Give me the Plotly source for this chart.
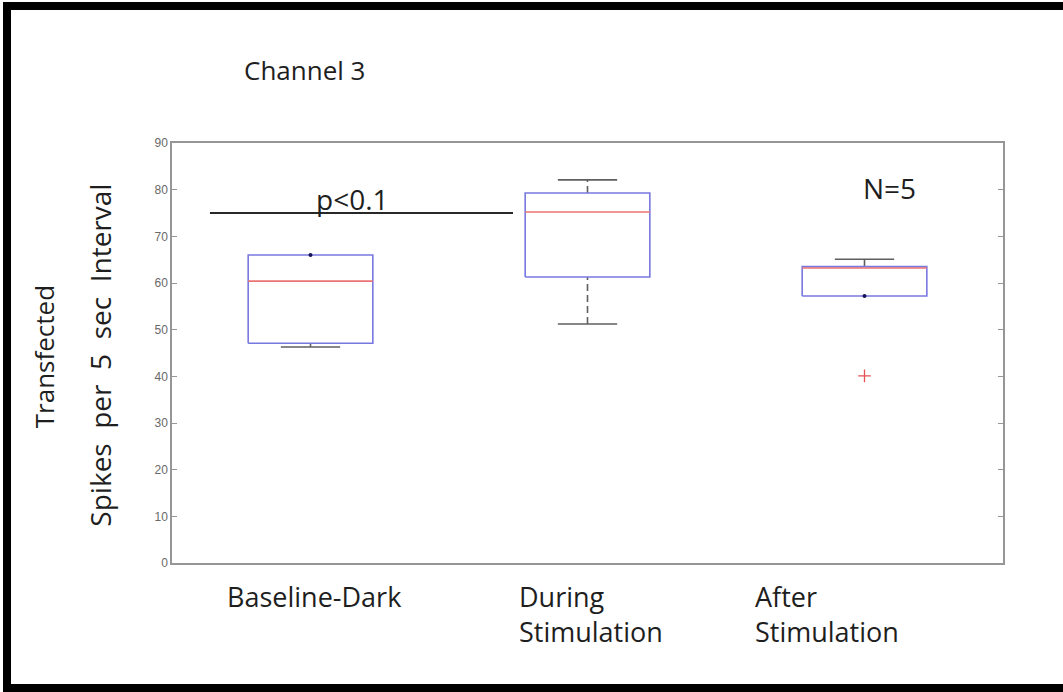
import plotly.graph_objects as go

# Box-plot summary for spikes per 5 s interval, channel 3 (N=5 per condition)
categories = ["Baseline-Dark", "During<br>Stimulation", "After<br>Stimulation"]
positions = [1, 2, 3]
q1 = [47.1, 61.3, 57.2]
median = [60.4, 75.2, 63.2]
q3 = [66.0, 79.3, 63.5]
lower_whisker = [46.3, 51.2, 57.2]
upper_whisker = [66.0, 82.1, 65.1]
outlier_pos = [3]
outlier_val = [40.1]
edge_dot_pos = [1, 3]
edge_dot_val = [66.0, 57.2]

y_ticks = [0, 10, 20, 30, 40, 50, 60, 70, 80, 90]

sig_x = [0.637, 1.731]
sig_y = 75

BOX_HALF = 0.225
CAP_HALF = 0.107
BOX_COLOR = "rgb(120,120,225)"
MED_COLOR = "rgb(235,115,115)"
WHISK_COLOR = "rgb(95,95,95)"
FONT = "Open Sans"
TXT = "rgb(30,30,30)"

fig = go.Figure()

for p, a, m, b, lo, hi in zip(positions, q1, median, q3, lower_whisker, upper_whisker):
    # whiskers (dashed) and caps
    fig.add_trace(go.Scatter(x=[p, p], y=[lo, a], mode="lines",
                             line=dict(color=WHISK_COLOR, width=1.6, dash="7px,4px"),
                             hoverinfo="skip", showlegend=False))
    fig.add_trace(go.Scatter(x=[p, p], y=[b, hi], mode="lines",
                             line=dict(color=WHISK_COLOR, width=1.6, dash="7px,4px"),
                             hoverinfo="skip", showlegend=False))
    for v in (lo, hi):
        if v not in (a, b):
            fig.add_trace(go.Scatter(x=[p - CAP_HALF, p + CAP_HALF], y=[v, v], mode="lines",
                                     line=dict(color=WHISK_COLOR, width=1.6),
                                     hoverinfo="skip", showlegend=False))
    # box
    fig.add_trace(go.Scatter(x=[p - BOX_HALF, p + BOX_HALF, p + BOX_HALF, p - BOX_HALF, p - BOX_HALF],
                             y=[a, a, b, b, a], mode="lines",
                             line=dict(color=BOX_COLOR, width=1.6),
                             hoverinfo="skip", showlegend=False))
    # median
    fig.add_trace(go.Scatter(x=[p - BOX_HALF, p + BOX_HALF], y=[m, m], mode="lines",
                             line=dict(color=MED_COLOR, width=1.6),
                             hoverinfo="skip", showlegend=False))

fig.add_trace(go.Scatter(x=edge_dot_pos, y=edge_dot_val, mode="markers",
                         marker=dict(color="rgb(20,20,90)", size=4),
                         hoverinfo="skip", showlegend=False))
fig.add_trace(go.Scatter(x=outlier_pos, y=outlier_val, mode="markers",
                         marker=dict(symbol="cross-thin", size=9,
                                     line=dict(color="rgb(230,80,80)", width=1.3)),
                         hoverinfo="skip", showlegend=False))

# significance bar
fig.add_trace(go.Scatter(x=sig_x, y=[sig_y, sig_y], mode="lines",
                         line=dict(color="rgb(40,40,40)", width=2),
                         hoverinfo="skip", showlegend=False))

def note(x, y, text, xref="x", yref="y", size=26, angle=0):
    return dict(x=x, y=y, xref=xref, yref=yref, text=text, textangle=angle,
                xanchor="center", yanchor="middle", showarrow=False,
                font=dict(family=FONT, size=size, color=TXT))

gap = "\u00a0 "
annotations = [
    note(1.15, 78.0, "p<0.1", size=28),
    note(3.09, 80.4, "N=5", size=28),
    note(0.160, 1.174, "Channel 3", xref="paper", yref="paper", size=26),
    note(-0.154, 0.49, "Transfected", xref="paper", yref="paper", size=26, angle=-90),
    note(-0.086, 0.495, gap.join(["Spikes", "per", "5", "sec", "Interval"]),
         xref="paper", yref="paper", size=28, angle=-90),
]

label_x = [0.691, 1.745, 2.597]
for lx, lab in zip(label_x, categories):
    annotations.append(dict(x=lx, y=-0.03, xref="x", yref="paper", text=lab,
                            xanchor="left", yanchor="top", align="left", showarrow=False,
                            font=dict(family=FONT, size=27, color=TXT)))

# outer black frame around the whole figure
W, H = 1063, 692
L, R, T, B = 172, 60, 143, 129
pw, ph = W - L - R, H - T - B
def px_x(px):
    return (px - L) / pw
def px_y(py):
    return (H - B - py) / ph

shapes = [
    dict(type="line", xref="paper", yref="paper", x0=px_x(7), x1=px_x(7), y0=px_y(2), y1=px_y(692),
         line=dict(color="black", width=8)),
    dict(type="line", xref="paper", yref="paper", x0=px_x(3), x1=px_x(1063), y0=px_y(6), y1=px_y(6),
         line=dict(color="black", width=8)),
    dict(type="line", xref="paper", yref="paper", x0=px_x(3), x1=px_x(1063), y0=px_y(688), y1=px_y(688),
         line=dict(color="black", width=8)),
]

fig.update_layout(
    width=W, height=H,
    margin=dict(l=L, r=R, t=T, b=B),
    paper_bgcolor="white", plot_bgcolor="white",
    showlegend=False,
    annotations=annotations,
    shapes=shapes,
    xaxis=dict(range=[0.5, 3.5], showticklabels=False, ticks="", showgrid=False,
               zeroline=False, showline=True, mirror=True, linecolor="rgb(150,150,150)", linewidth=1.5),
    yaxis=dict(range=[0, 90], tickvals=y_ticks, ticks="inside", ticklen=5, tickwidth=1.2,
               tickcolor="rgb(150,150,150)", showgrid=False, zeroline=False,
               showline=True, mirror="ticks", linecolor="rgb(150,150,150)", linewidth=1.5,
               tickfont=dict(family="Liberation Sans", size=12, color="rgb(105,105,105)")),
)

fig.write_html("out.html")
